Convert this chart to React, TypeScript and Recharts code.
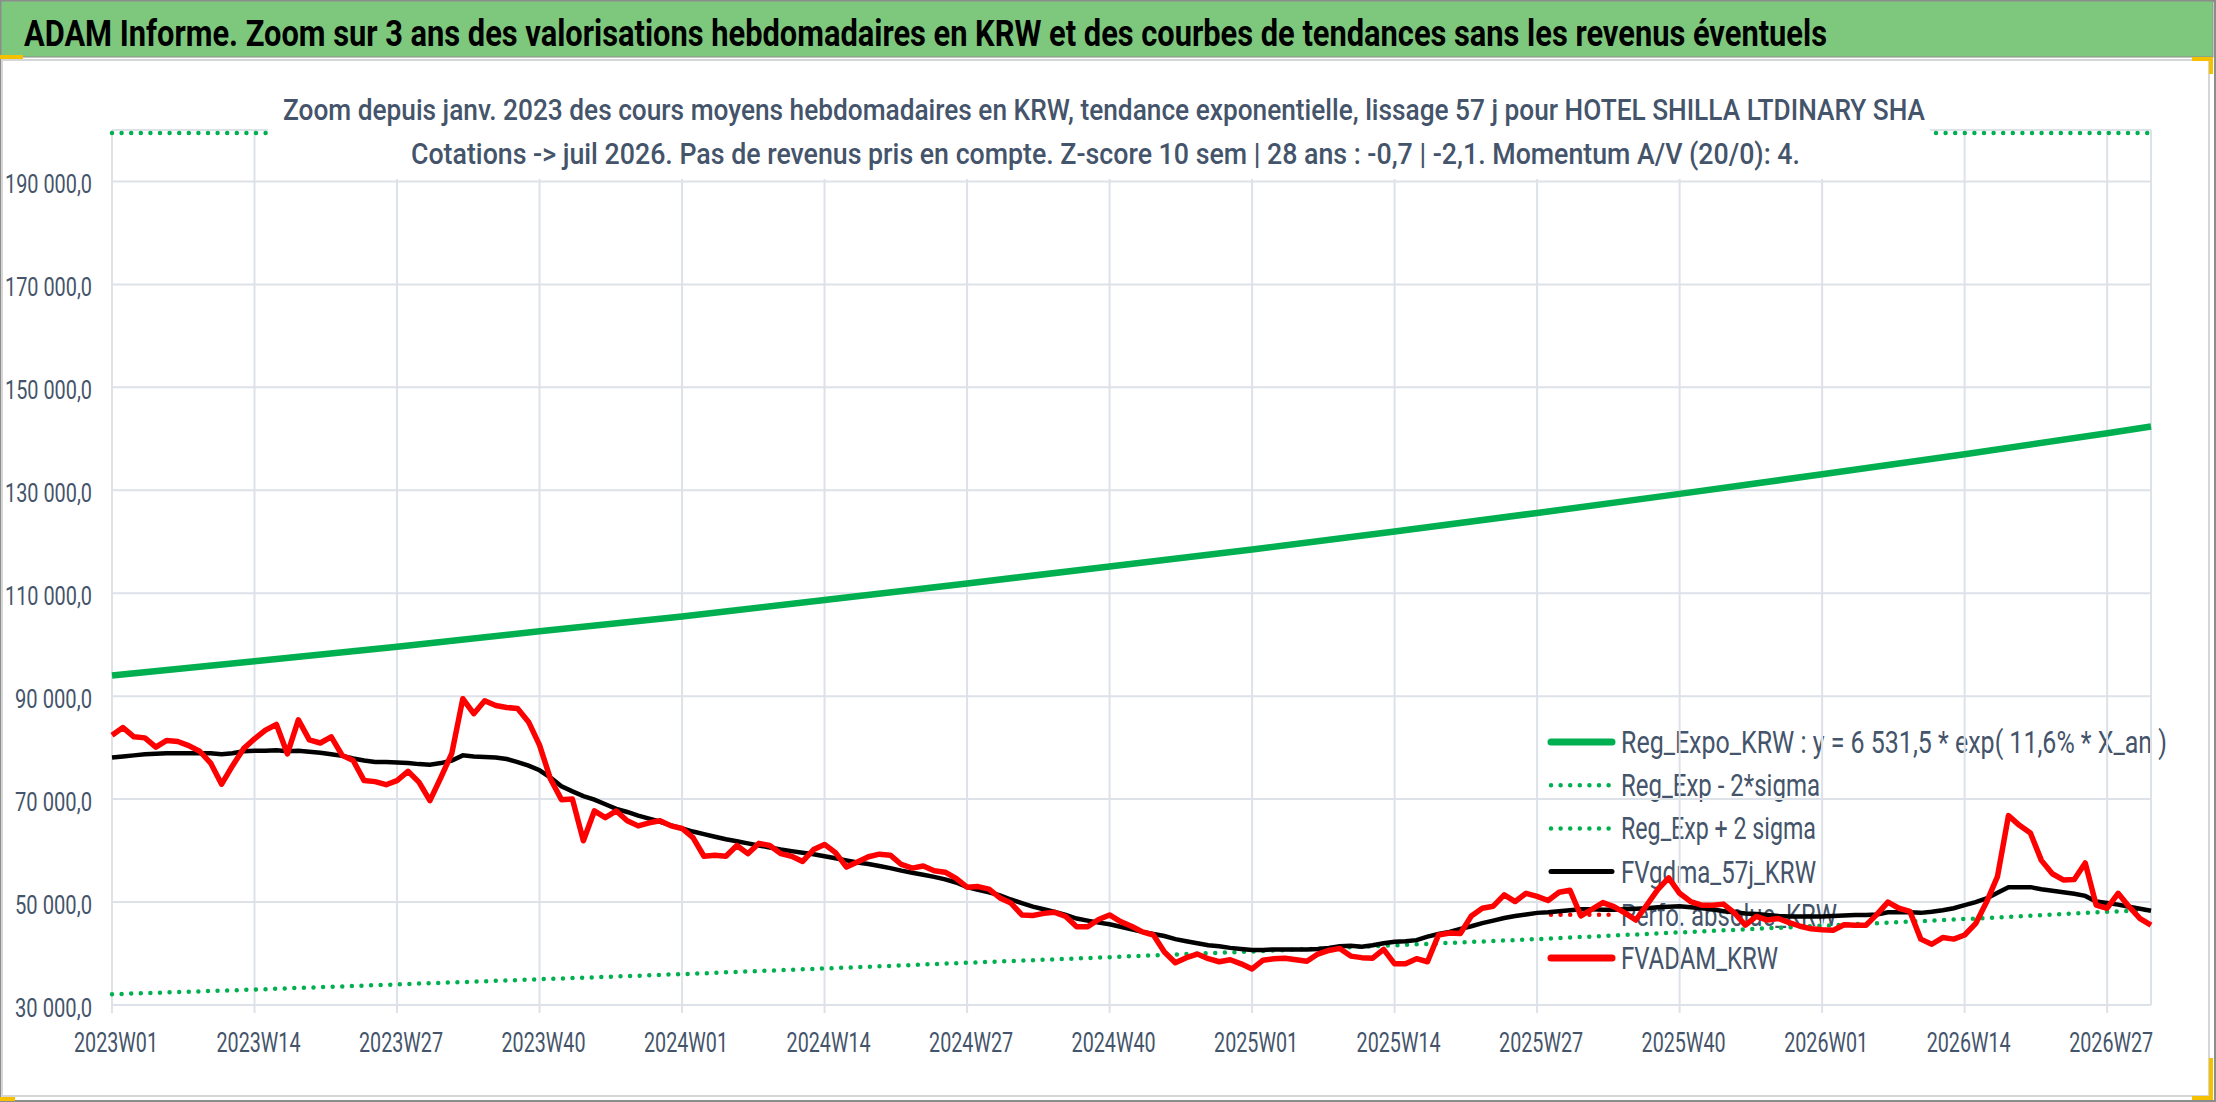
import React from "react";
import { CartesianGrid, Line, LineChart, XAxis, YAxis } from "recharts";

// weekly labels 2023W01 .. 2026W31
const years = [2023, 2024, 2025, 2026];
const weeksPerYear = [52, 52, 52, 31];
const weeks: string[] = [];
years.forEach((y, k) => {
  for (let w = 1; w <= weeksPerYear[k]; w++) weeks.push(`${y}W${String(w).padStart(2, "0")}`);
});

// FVADAM_KRW, thousands KRW, one value per week
const fvadam = [
  82.4, 83.9, 82.1, 81.9, 80.1, 81.4, 81.2, 80.4, 79.3, 77.0,
  72.9, 76.5, 79.8, 81.7, 83.4, 84.5, 78.8, 85.4, 81.5, 80.9,
  82.1, 78.5, 77.5, 73.6, 73.4, 72.8, 73.6, 75.4, 73.3, 69.7,
  74.2, 78.9, 89.5, 86.6, 89.1, 88.2, 87.8, 87.6, 85.0, 80.5,
  73.9, 69.9, 70.0, 61.9, 67.7, 66.4, 67.7, 65.8, 64.8, 65.4,
  65.8, 64.8, 64.3, 62.5, 58.9, 59.1, 58.9, 61.0, 59.4, 61.4,
  61.0, 59.4, 58.9, 57.9, 60.2, 61.2, 59.6, 56.8, 57.8, 58.8,
  59.3, 59.1, 57.3, 56.6, 57.0, 56.1, 55.8, 54.6, 52.9, 53.0,
  52.5, 50.8, 49.8, 47.5, 47.4, 47.8, 48.0, 47.2, 45.2, 45.2,
  46.6, 47.5, 46.2, 45.3, 44.2, 43.6, 40.3, 38.2, 39.2, 39.9,
  39.0, 38.4, 38.8, 38.0, 37.0, 38.7, 39.0, 39.1, 38.8, 38.5,
  39.9, 40.6, 41.0, 39.5, 39.2, 39.1, 40.8, 38.0, 38.0, 39.0,
  38.4, 43.6, 44.0, 43.9, 47.3, 48.8, 49.2, 51.4, 50.1, 51.7,
  51.1, 50.3, 51.9, 52.3, 47.3, 48.6, 49.9, 49.1, 47.9, 46.5,
  49.4, 52.4, 54.7, 51.7, 50.1, 49.4, 49.4, 49.6, 47.9, 45.5,
  47.2, 46.5, 46.8, 46.0, 45.3, 44.8, 44.6, 44.5, 45.6, 45.5,
  45.5, 47.6, 50.0, 48.8, 48.2, 42.8, 41.8, 43.1, 42.8, 43.6,
  45.8, 50.0, 55.0, 66.8, 64.9, 63.4, 58.1, 55.5, 54.3, 54.4,
  57.6, 49.4, 48.8, 51.7, 49.1, 46.8, 45.5,
];

// FVgdma_57j_KRW, thousands KRW
const fvgdma = [
  78.1, 78.3, 78.5, 78.7, 78.8, 78.9, 78.9, 78.9, 78.9, 78.9,
  78.7, 78.9, 79.3, 79.4, 79.4, 79.5, 79.3, 79.4, 79.2, 79.0,
  78.7, 78.4, 77.9, 77.5, 77.2, 77.2, 77.1, 77.0, 76.8, 76.7,
  77.0, 77.5, 78.5, 78.3, 78.2, 78.1, 77.8, 77.2, 76.5, 75.6,
  74.2, 72.5, 71.5, 70.6, 69.9, 69.0, 68.1, 67.5, 66.8, 66.2,
  65.6, 64.9, 64.3, 63.7, 63.2, 62.7, 62.2, 61.8, 61.4, 61.0,
  60.6, 60.2, 59.9, 59.6, 59.3, 58.9, 58.5, 58.1, 57.7, 57.4,
  57.0, 56.6, 56.1, 55.7, 55.3, 54.9, 54.4, 53.8, 52.9, 52.4,
  51.9, 51.3, 50.5, 49.8, 49.1, 48.6, 48.1, 47.5, 46.8, 46.4,
  46.0, 45.7, 45.2, 44.7, 44.2, 43.8, 43.4, 42.8, 42.4, 42.0,
  41.6, 41.4, 41.1, 40.9, 40.7, 40.7, 40.8, 40.8, 40.8, 40.8,
  40.9, 41.1, 41.4, 41.5, 41.3, 41.6, 42.0, 42.3, 42.4, 42.6,
  43.3, 43.8, 44.2, 44.8, 45.3, 45.9, 46.4, 46.9, 47.3, 47.6,
  47.9, 48.0, 48.2, 48.4, 48.6, 48.6, 48.5, 48.5, 48.6, 48.7,
  48.8, 49.0, 49.1, 49.2, 49.0, 48.8, 48.6, 48.2, 48.0, 47.8,
  47.7, 47.5, 47.3, 47.2, 47.2, 47.2, 47.2, 47.3, 47.4, 47.5,
  47.5, 47.6, 48.0, 48.0, 48.0, 47.9, 48.1, 48.4, 48.8, 49.4,
  50.0, 50.7, 51.8, 52.9, 52.9, 52.9, 52.5, 52.2, 51.9, 51.6,
  51.2, 50.1, 49.8, 49.5, 49.1, 48.7, 48.3,
];

// trend lines read every 13 weeks (week index), thousands KRW
const trendIdx = [0, 13, 26, 39, 52, 65, 78, 91, 104, 117, 130, 143, 156, 169, 182, 186];
const regExpo = [94.0, 96.8, 99.6, 102.6, 105.5, 108.7, 111.9, 115.2, 118.5, 122.0, 125.6, 129.3, 133.1, 137.0, 141.1, 142.4];
const regLow = [32.1, 33.0, 34.0, 35.0, 36.0, 37.1, 38.2, 39.3, 40.4, 41.6, 42.8, 44.1, 45.4, 46.7, 48.1, 48.5];
const regHigh = [199.4, 199.4, 199.4, 199.4, 199.4, 199.4, 199.4, 199.4, 199.4, 199.4, 199.4, 199.4, 199.4, 199.4, 199.4, 199.4];

const yTicks = [30000, 50000, 70000, 90000, 110000, 130000, 150000, 170000, 190000];

const rows = weeks.map((week, i) => {
  const t = trendIdx.indexOf(i);
  return {
    week,
    red: fvadam[i] * 1000,
    black: fvgdma[i] * 1000,
    expo: t >= 0 ? regExpo[t] * 1000 : null,
    low: t >= 0 ? regLow[t] * 1000 : null,
    high: t >= 0 ? regHigh[t] * 1000 : null,
  };
});

const FONT = "'Liberation Sans Narrow', 'Roboto', 'Liberation Sans', sans-serif";
const SLATE = "#44546a";
const GREEN = "#00b050";

const fmt = (v: number) => String(Math.round(v)).replace(/\B(?=(\d{3})+(?!\d))/g, " ") + ",0";

function XTick(props: any) {
  const { x, payload } = props;
  return (
    <text x={x + 4} y={1052} textAnchor="middle" fill={SLATE} fontFamily={FONT} fontSize={28}
      textLength={84} lengthAdjust="spacingAndGlyphs">
      {payload.value}
    </text>
  );
}

function YTick(props: any) {
  const { y, payload } = props;
  const s = fmt(payload.value);
  return (
    <text x={92} y={y + 12} textAnchor="end" fill={SLATE} fontFamily={FONT} fontSize={25}
      textLength={s.length > 8 ? 87 : 77} lengthAdjust="spacingAndGlyphs">
      {s}
    </text>
  );
}

const legendRows = [
  { label: "Reg_Expo_KRW : y = 6 531,5 * exp( 11,6% *  X_an )", color: GREEN, w: 7, dots: false, len: 546 },
  { label: "Reg_Exp - 2*sigma", color: GREEN, w: 4.5, dots: true, len: 199 },
  { label: "Reg_Exp + 2 sigma", color: GREEN, w: 4.5, dots: true, len: 195 },
  { label: "FVgdma_57j_KRW", color: "#000000", w: 5, dots: false, len: 195 },
  { label: "Perfo. absolue_KRW", color: "#ff0000", w: 4.5, dots: true, len: 216 },
  { label: "FVADAM_KRW", color: "#ff0000", w: 7, dots: false, len: 157 },
];

export default function App() {
  return (
    <div style={{ position: "absolute", left: 0, top: 0, width: 2216, height: 1102, background: "#fff", overflow: "hidden" }}>
      {/* frame, title bar and legend (below the plot) */}
      <svg width={2216} height={1102} style={{ position: "absolute", left: 0, top: 0 }}>
        <rect x={1} y={1} width={2214} height={1100} fill="#fff" stroke="#8c8c8c" strokeWidth={2} />
        <rect x={2} y={60} width={2207} height={1036} fill="#fff" stroke="#d6d6d6" strokeWidth={2} />
        <rect x={1} y={1} width={2212} height={56} fill="#7ec87e" stroke="#8c8c8c" strokeWidth={1} />
        <text x={24} y={46} fontFamily={FONT} fontWeight="bold" fontSize={37} fill="#000"
          textLength={1803} lengthAdjust="spacingAndGlyphs">
          ADAM Informe. Zoom sur 3 ans des valorisations hebdomadaires en KRW et des courbes de tendances sans les revenus éventuels
        </text>
        <rect x={0} y={55} width={23} height={4} fill="#f5c000" />
        <rect x={2192} y={57} width={21} height={4} fill="#f5c000" />
        <rect x={2209} y={57} width={4} height={17} fill="#f5c000" />
        <rect x={2209} y={1058} width={4} height={40} fill="#f5c000" />
        <rect x={2192} y={1096} width={21} height={4} fill="#f5c000" />
        <rect x={0} y={1097} width={15} height={4} fill="#f5c000" />
        {legendRows.map((r, i) => {
          const cy = 742 + i * 43.2;
          return (
            <g key={r.label}>
              <line x1={1551} x2={1612} y1={cy} y2={cy} stroke={r.color} strokeWidth={r.w}
                strokeLinecap="round" strokeDasharray={r.dots ? "0 9.6" : undefined} />
              <text x={1621} y={cy + 11} fontFamily={FONT} fontSize={31} fill={SLATE}
                textLength={r.len} lengthAdjust="spacingAndGlyphs">
                {r.label}
              </text>
            </g>
          );
        })}
      </svg>

      <div style={{ position: "absolute", left: 0, top: 0 }}>
        <LineChart width={2216} height={1102} data={rows} margin={{ top: 130, right: 65, bottom: 0, left: 0 }}>
          <CartesianGrid stroke="#dde1e8" strokeWidth={2} />
          <XAxis dataKey="week" interval={12} height={97} axisLine={false} tickSize={8}
            tickLine={{ stroke: "#dde1e8", strokeWidth: 2 }} tick={<XTick />} />
          <YAxis domain={[30000, 200000]} ticks={yTicks} width={112} allowDataOverflow
            axisLine={false} tickLine={false} tick={<YTick />} />
          <Line dataKey="low" stroke={GREEN} strokeWidth={4.5} strokeDasharray="0 9.6" strokeLinecap="round"
            dot={false} activeDot={false} connectNulls isAnimationActive={false} />
          <Line dataKey="high" stroke={GREEN} strokeWidth={4.5} strokeDasharray="0 9.6" strokeLinecap="round"
            dot={false} activeDot={false} connectNulls isAnimationActive={false} />
          <Line dataKey="expo" stroke={GREEN} strokeWidth={6.5} dot={false} activeDot={false}
            connectNulls isAnimationActive={false} />
          <Line dataKey="black" stroke="#000000" strokeWidth={4.5} dot={false} activeDot={false}
            isAnimationActive={false} />
          <Line dataKey="red" stroke="#ff0000" strokeWidth={5.5} strokeLinejoin="round" dot={false}
            activeDot={false} isAnimationActive={false} />
        </LineChart>
      </div>

      {/* subtitle box over the plot */}
      <svg width={2216} height={200} style={{ position: "absolute", left: 0, top: 0, pointerEvents: "none" }}>
        <rect x={268} y={72} width={1662} height={107} fill="#fff" />
        <text x={283} y={120} fontFamily={FONT} fontSize={30} fill={SLATE} fontWeight={500}
          textLength={1642} lengthAdjust="spacingAndGlyphs">
          Zoom depuis janv. 2023 des cours moyens hebdomadaires en KRW, tendance exponentielle, lissage 57 j pour HOTEL SHILLA LTDINARY SHA
        </text>
        <text x={411} y={164} fontFamily={FONT} fontSize={30} fill={SLATE} fontWeight={500}
          textLength={1389} lengthAdjust="spacingAndGlyphs">
          Cotations -&gt; juil 2026. Pas de revenus pris en compte. Z-score 10 sem | 28 ans : -0,7 | -2,1. Momentum A/V (20/0): 4.
        </text>
      </svg>
    </div>
  );
}
